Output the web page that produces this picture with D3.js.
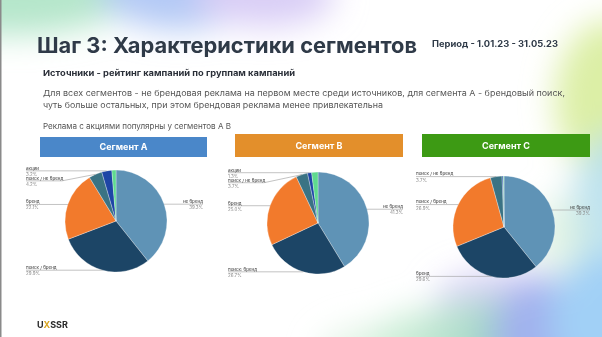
<!DOCTYPE html>
<html><head><meta charset="utf-8">
<script src="https://cdn.jsdelivr.net/npm/d3@7"></script>
<style>
html,body{margin:0;padding:0;background:#fff;overflow:hidden}
svg{display:block}
</style></head>
<body>
<svg id="c" width="602" height="337"></svg>
<script>
// ---- data ----
const segments = ["Сегмент А", "Сегмент В", "Сегмент С"];
const labelsA = ["не бренд", "поиск / бренд", "бренд", "поиск / не бренд", "акции", null];
const valuesA = [39.3, 29.9, 22.1, 4.2, 3.2, 1.3];
const labelsB = ["не бренд", "поиск: бренд", "бренд", "поиск / не бренд", "акции", null];
const valuesB = [41.3, 26.7, 25.0, 3.7, 1.3, 2.0];
const labelsC = ["не бренд", "бренд", "поиск / бренд", "поиск / не бренд", null, null];
const valuesC = [39.2, 29.6, 26.9, 3.7, 0.4, 0.2];
const titleText = "Шаг 3: Характеристики сегментов";
const periodText = "Период - 1.01.23 - 31.05.23";
const subtitleText = "Источники - рейтинг кампаний по группам кампаний";
const paraLines = ["Для всех сегментов - не брендовая реклама на первом месте среди источников, для сегмента А - брендовый поиск,",
  "чуть больше остальных, при этом брендовая реклама менее привлекательна"];
const noteText = "Реклама с акциями популярны у сегментов А В";

// ---- styles ----
const sliceColors = ["#5f93b6", "#1c4566", "#f27a2c", "#3a7384", "#1e45a6", "#5fd98f"];
const headerColors = ["#4a87c9", "#e38f2b", "#3d9a14"];

const svg = d3.select("#c");
const defs = svg.append("defs");
const blur = defs.append("filter").attr("id","bl").attr("x","-50%").attr("y","-50%").attr("width","200%").attr("height","200%");
blur.append("feGaussianBlur").attr("stdDeviation", 16);

// background blobs
const blobs = [
  [10, -10, 130, 45, "#b5e6cb", 1],
  [180, -10, 80, 40, "#b3c9f5", 1],
  [265, -5, 70, 32, "#d9cef6", 1],
  [610, 100, 55, 80, "#dcefa6", 1],
  [620, 220, 50, 90, "#b8e0ee", 0.9],
  [560, 235, 30, 40, "#d6efd9", 0.6],
  [505, 300, 70, 32, "#d3ccf6", 0.85],
  [380, 355, 60, 30, "#e3f4e6", 1],
  [425, 350, 55, 40, "#cdeed8", 1],
  [465, 350, 45, 50, "#b9e3cf", 1],
  [500, 345, 35, 50, "#a4d4ca", 1],
  [540, 335, 45, 55, "#a1b1ee", 1],
  [605, 320, 55, 65, "#a1d0f6", 1]
];
const bg = svg.append("g").attr("filter","url(#bl)");
bg.selectAll("ellipse").data(blobs).join("ellipse")
  .attr("cx", d=>d[0]).attr("cy", d=>d[1]).attr("rx", d=>d[2]).attr("ry", d=>d[3])
  .attr("fill", d=>d[4]).attr("opacity", d=>d[5]);
svg.append("rect").attr("x",0).attr("y",0).attr("width",1.5).attr("height",337).attr("fill","#8a8a8a");

// texts
function fitText(sel, w){ sel.attr("textLength", w).attr("lengthAdjust","spacingAndGlyphs"); return sel; }
fitText(svg.append("text").attr("x",37).attr("y",53).attr("font-family","Inter, 'Open Sans', sans-serif")
  .attr("font-weight",700).attr("font-size",21).attr("fill","#2f3a48").text(titleText), 380);
fitText(svg.append("text").attr("x",432).attr("y",47).attr("font-family","Inter, sans-serif")
  .attr("font-weight",700).attr("font-size",8.5).attr("fill","#2f3a48").text(periodText), 126);
fitText(svg.append("text").attr("x",43).attr("y",76).attr("font-family","Inter, sans-serif")
  .attr("font-weight",700).attr("font-size",8).attr("fill","#2a2f38").text(subtitleText), 252);
paraLines.forEach((t,i)=>{
  fitText(svg.append("text").attr("x",43).attr("y",96 + i*12).attr("font-family","Inter, sans-serif")
    .attr("font-size",8).attr("fill","#555").text(t), i===0 ? 522 : 340);
});
fitText(svg.append("text").attr("x",43).attr("y",129).attr("font-family","Inter, sans-serif")
  .attr("font-size",8).attr("fill","#555").text(noteText), 188);

// logo
const logo = svg.append("text").attr("x",37).attr("y",328).attr("font-family","Inter, sans-serif")
  .attr("font-weight",700).attr("font-size",9).attr("fill","#2a2a2a");
logo.append("tspan").text("U");
logo.append("tspan").attr("fill","#d9a520").text("X");
logo.append("tspan").text("SSR");

// segments
const panels = [
  {labels: labelsA, values: valuesA, box:[40,137,167,20], cx:116, cy:221, lx:26, rx:203},
  {labels: labelsB, values: valuesB, box:[235,134,168,23], cx:318, cy:223, lx:228, rx:403},
  {labels: labelsC, values: valuesC, box:[422,134,168,23], cx:504, cy:227, lx:416, rx:590}
];
const R = 51;
const pie = d3.pie().sort(null).value(d=>d);
const arc = d3.arc().innerRadius(0).outerRadius(R);
const fmt = v => d3.format(".1f")(v) + "%";

panels.forEach((p, i) => {
  const g = svg.append("g");
  g.append("rect").attr("x",p.box[0]).attr("y",p.box[1]).attr("width",p.box[2]).attr("height",p.box[3])
    .attr("fill", headerColors[i]);
  g.append("text").attr("x",p.box[0]+p.box[2]/2).attr("y",p.box[1]+p.box[3]/2+3)
    .attr("text-anchor","middle").attr("font-family","Inter, sans-serif").attr("font-weight",700)
    .attr("font-size",9).attr("fill","#fff").text(segments[i]);

  const arcs = pie(p.values);
  const pg = g.append("g").attr("transform",`translate(${p.cx},${p.cy})`);
  pg.selectAll("path").data(arcs).join("path").attr("d", arc)
    .attr("fill", (d,j)=>sliceColors[j]).attr("stroke","#fff").attr("stroke-width",0.3);

  // labels
  const items = arcs.map((d,j)=>{
    const a = (d.startAngle + d.endAngle)/2;
    return {name: p.labels[j], value: p.values[j], ax: p.cx + Math.sin(a)*R, ay: p.cy - Math.cos(a)*R, right: a < Math.PI};
  }).filter(d=>d.name);
  ["left","right"].forEach(side=>{
    const arr = items.filter(d => (side==="right") === d.right).sort((a,b)=>a.ay-b.ay);
    let prev = -Infinity;
    arr.forEach(d=>{ d.ly = Math.max(d.ay, prev + 10); prev = d.ly; });
    arr.forEach(d=>{
      let pts, tx, anchor;
      if (side === "left") {
        tx = p.lx; anchor = "start";
        pts = [[p.lx, d.ly], [Math.min(p.lx + 36, d.ax - 2), d.ly], [d.ax, d.ay]];
      } else {
        tx = p.rx; anchor = "end";
        pts = [[d.ax, d.ay], [Math.max(p.rx - 36, d.ax + 2), d.ly], [p.rx, d.ly]];
      }
      g.append("polyline").attr("points", pts.map(q=>q.join(",")).join(" "))
        .attr("fill","none").attr("stroke","#9a9a9a").attr("stroke-width",0.6);
      g.append("text").attr("x",tx).attr("y",d.ly-1.2).attr("text-anchor",anchor)
        .attr("font-family","Inter, sans-serif").attr("font-size",4.5).attr("fill","#333").text(d.name);
      g.append("text").attr("x",tx).attr("y",d.ly+5).attr("text-anchor",anchor)
        .attr("font-family","Inter, sans-serif").attr("font-size",4.5).attr("fill","#888").text(fmt(d.value));
    });
  });
});
</script>
</body></html>
